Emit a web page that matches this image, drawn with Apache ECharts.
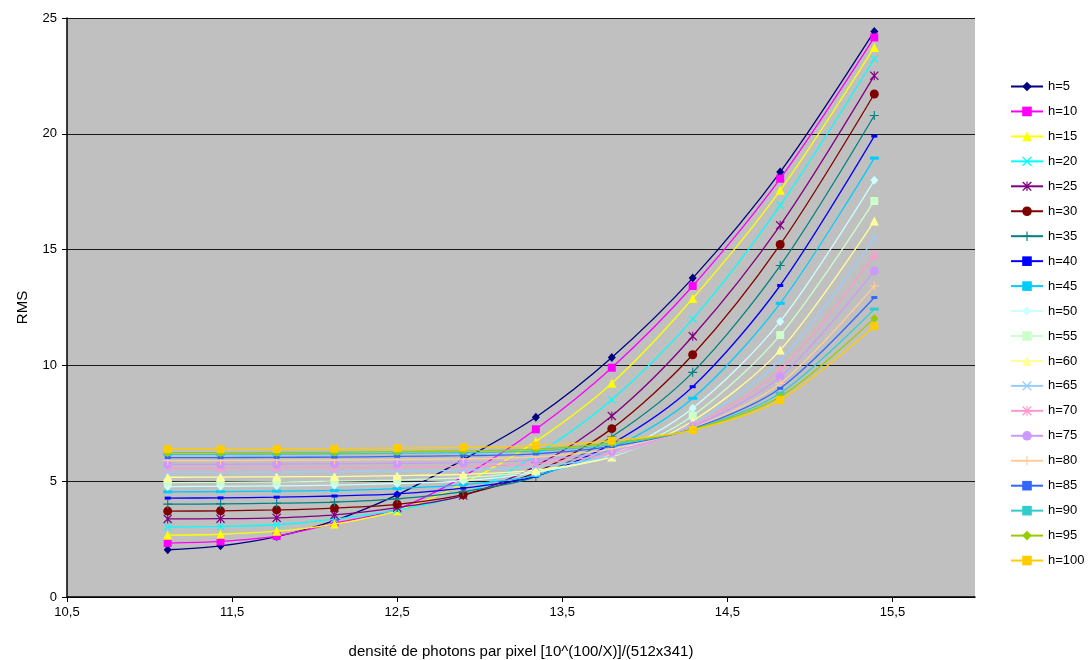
<!DOCTYPE html>
<html>
<head>
<meta charset="utf-8">
<script src="https://cdn.jsdelivr.net/npm/echarts@6/dist/echarts.min.js"></script>
<style>
html,body{margin:0;padding:0;background:#fff;}
#chart{width:1090px;height:660px;}
</style>
</head>
<body>
<div id="chart"></div>
<script>
// ---- data ----
const xValues = [11.11, 11.43, 11.77, 12.12, 12.5, 12.9, 13.34, 13.8, 14.29, 14.82, 15.39];
const seriesNames = ['h=5','h=10','h=15','h=20','h=25','h=30','h=35','h=40','h=45','h=50',
                     'h=55','h=60','h=65','h=70','h=75','h=80','h=85','h=90','h=95','h=100'];
const h5   = [2.04, 2.21, 2.61, 3.30, 4.41, 5.93, 7.76, 10.34, 13.77, 18.35, 24.42];
const h10  = [2.33, 2.40, 2.63, 3.18, 3.80, 5.20, 7.24, 9.90, 13.43, 18.06, 24.16];
const h15  = [2.67, 2.71, 2.84, 3.15, 3.72, 4.90, 6.72, 9.23, 12.89, 17.56, 23.73];
const h20  = [3.02, 3.05, 3.12, 3.36, 3.75, 4.42, 6.13, 8.52, 12.00, 16.91, 23.23];
const h25  = [3.37, 3.38, 3.42, 3.55, 3.86, 4.38, 5.65, 7.82, 11.26, 16.05, 22.51];
const h30  = [3.71, 3.72, 3.76, 3.84, 4.00, 4.42, 5.38, 7.27, 10.46, 15.22, 21.72];
const h35  = [4.01, 4.02, 4.05, 4.10, 4.24, 4.55, 5.20, 6.92, 9.70, 14.31, 20.79];
const h40  = [4.27, 4.28, 4.31, 4.36, 4.45, 4.70, 5.22, 6.62, 9.08, 13.45, 19.90];
const h45  = [4.54, 4.55, 4.57, 4.60, 4.68, 4.85, 5.25, 6.40, 8.58, 12.68, 18.95];
const h50  = [4.77, 4.78, 4.80, 4.83, 4.90, 5.02, 5.38, 6.15, 8.15, 11.90, 17.99];
const h55  = [4.94, 4.95, 4.97, 5.00, 5.05, 5.15, 5.42, 6.08, 7.83, 11.31, 17.10];
const h60  = [5.17, 5.18, 5.19, 5.20, 5.24, 5.30, 5.48, 6.05, 7.60, 10.66, 16.23];
const h65  = [5.39, 5.39, 5.40, 5.41, 5.44, 5.48, 5.62, 6.10, 7.48, 10.23, 15.47];
const h70  = [5.56, 5.56, 5.57, 5.58, 5.60, 5.64, 5.76, 6.20, 7.40, 9.80, 14.75];
const h75  = [5.73, 5.73, 5.74, 5.75, 5.77, 5.80, 5.91, 6.30, 7.35, 9.51, 14.08];
const h80  = [5.89, 5.89, 5.90, 5.91, 5.93, 5.96, 6.05, 6.40, 7.30, 9.22, 13.43];
const h85  = [6.02, 6.02, 6.03, 6.04, 6.07, 6.10, 6.18, 6.50, 7.27, 9.01, 12.93];
const h90  = [6.16, 6.16, 6.17, 6.18, 6.20, 6.23, 6.30, 6.58, 7.25, 8.80, 12.43];
const h95  = [6.23, 6.23, 6.24, 6.25, 6.28, 6.31, 6.38, 6.65, 7.23, 8.65, 12.03];
const h100 = [6.38, 6.38, 6.39, 6.40, 6.43, 6.46, 6.54, 6.75, 7.21, 8.50, 11.69];
const seriesValues = [h5,h10,h15,h20,h25,h30,h35,h40,h45,h50,h55,h60,h65,h70,h75,h80,h85,h90,h95,h100];
const xTickLabels = ['10,5','11,5','12,5','13,5','14,5','15,5'];

// ---- styles ----
const colors = ['#000080','#FF00FF','#FFFF00','#00FFFF','#800080','#800000','#008080','#0000FF','#00CCFF','#CCFFFF',
                '#CCFFCC','#FFFF99','#99CCFF','#FF99CC','#CC99FF','#FFCC99','#3366FF','#33CCCC','#99CC00','#FFCC00'];
const X_PATH = 'path://M0,1 L1,0 L5,4 L9,0 L10,1 L6,5 L10,9 L9,10 L5,6 L1,10 L0,9 L4,5 Z';
const STAR_PATH = 'path://M0,1 L1,0 L5,4 L9,0 L10,1 L6,5 L10,9 L9,10 L5,6 L1,10 L0,9 L4,5 Z M4.4,0 L5.6,0 L5.6,10 L4.4,10 Z';
const PLUS_PATH = 'path://M4.4,0 L5.6,0 L5.6,4.4 L10,4.4 L10,5.6 L5.6,5.6 L5.6,10 L4.4,10 L4.4,5.6 L0,5.6 L0,4.4 L4.4,4.4 Z';
const markerCycle = [
  {symbol:'diamond', size:[8,9]},
  {symbol:'rect', size:8},
  {symbol:'triangle', size:9},
  {symbol:X_PATH, size:8},
  {symbol:STAR_PATH, size:9},
  {symbol:'circle', size:9},
  {symbol:PLUS_PATH, size:9},
  {symbol:'rect', size:[6,3]},
  {symbol:'rect', size:[9,3]},
  {symbol:'diamond', size:[8,9]},
  {symbol:'rect', size:8},
  {symbol:'triangle', size:9},
  {symbol:X_PATH, size:8},
  {symbol:STAR_PATH, size:9},
  {symbol:'circle', size:9},
  {symbol:PLUS_PATH, size:9},
  {symbol:'rect', size:[6,3]},
  {symbol:'rect', size:[9,3]},
  {symbol:'diamond', size:[8,9]},
  {symbol:'rect', size:8}
];

const FONT = 'Liberation Sans, Arial, sans-serif';

const series = seriesNames.map((name, i) => ({
  name: name,
  type: 'line',
  data: xValues.map((x, j) => [x, seriesValues[i][j]]),
  smooth: 0.3,
  symbol: markerCycle[i].symbol,
  symbolSize: markerCycle[i].size,
  showAllSymbol: true,
  color: colors[i],
  lineStyle: {width: 1.3, color: colors[i]},
  itemStyle: {color: colors[i], borderWidth: 0},
  emphasis: {disabled: true},
  z: 2 + i
}));

const chart = echarts.init(document.getElementById('chart'), null, {renderer: 'canvas'});
chart.setOption({
  animation: false,
  backgroundColor: '#ffffff',
  textStyle: {fontFamily: FONT},
  grid: {
    left: 67, right: 115, top: 18, bottom: 63,
    show: true, backgroundColor: '#C0C0C0', borderWidth: 0,
    containLabel: false,
    outerBoundsMode: 'none'
  },
  legend: {
    orient: 'vertical',
    left: 1005,
    top: 75,
    itemWidth: 32,
    itemHeight: 12,
    itemGap: 11.95,
    textStyle: {fontFamily: FONT, fontSize: 13, color: '#000'},
    data: seriesNames
  },
  xAxis: {
    type: 'value',
    min: 10.5,
    max: 16,
    interval: 1,
    name: 'densité de photons par pixel [10^(100/X)]/(512x341)',
    nameLocation: 'middle',
    nameGap: 47,
    nameTextStyle: {fontFamily: FONT, fontSize: 15, color: '#000'},
    axisLine: {show: true, onZero: false, lineStyle: {color: '#000', width: 1.5}},
    axisTick: {show: true, inside: false, length: 5, lineStyle: {color: '#000'}},
    axisLabel: {
      showMaxLabel: false,
      margin: 9,
      fontFamily: FONT, fontSize: 13, color: '#000',
      formatter: function (v) {
        const idx = Math.round(v - 10.5);
        return (Math.abs(v - 10.5 - idx) < 1e-6 && idx < xTickLabels.length) ? xTickLabels[idx] : '';
      }
    },
    splitLine: {show: false}
  },
  yAxis: {
    type: 'value',
    min: 0,
    max: 25,
    interval: 5,
    name: 'RMS',
    nameLocation: 'middle',
    nameGap: 37,
    nameRotate: 90,
    nameTextStyle: {fontFamily: FONT, fontSize: 15, color: '#000'},
    axisLine: {show: true, lineStyle: {color: '#000', width: 1.5}},
    axisTick: {show: true, inside: false, length: 5, lineStyle: {color: '#000'}},
    axisLabel: {margin: 10, fontFamily: FONT, fontSize: 13, color: '#000'},
    splitLine: {show: true, lineStyle: {color: '#1a1a1a', width: 1}}
  },
  series: series
});
</script>
</body>
</html>
